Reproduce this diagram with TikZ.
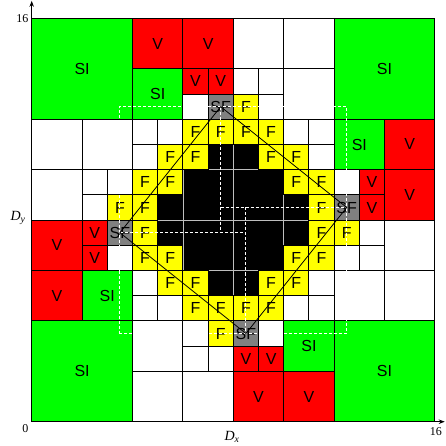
\documentclass[tikz,border=0pt]{standalone}
\usepackage{fontspec}
\setmainfont{Liberation Sans}
\newfontfamily\axfont{Liberation Serif}
\usetikzlibrary{arrows.meta}
\definecolor{cgreen}{RGB}{0,255,0}
\definecolor{cred}{RGB}{255,0,0}
\definecolor{cyellow}{RGB}{255,255,0}
\definecolor{cgray}{RGB}{128,128,128}
\definecolor{cblkedge}{RGB}{190,190,190}
\begin{document}
\begin{tikzpicture}[x=25.2pt,y=25.2pt,
  cellbox/.style={draw=black,line width=0.9pt},
  blkbox/.style={draw=cblkedge,line width=0.8pt,fill=black},
  lbl/.style={font=\fontsize{16}{16}\selectfont,inner sep=0pt},
  axlbl/.style={font=\axfont\fontsize{12}{12}\selectfont,inner sep=0pt},
  dlbl/.style={font=\axfont\fontsize{14}{14}\selectfont\itshape,inner sep=0pt},
  padline/.style={draw=white,line width=1pt,dash pattern=on 3pt off 2pt},
  diam/.style={draw=black,line width=0.8pt}]
\useasboundingbox (-1.258,-0.964) rectangle (16.401,16.734);
% black cells
\foreach \x/\y/\s in {7/10/1,5/8/1,6/8/2,8/10/1,8/8/2,10/8/1,5/7/1,6/6/2,7/5/1,8/6/2,10/7/1,8/5/1}
  \draw[blkbox] (\x,\y) rectangle ++(\s,\s);
% white cells
\foreach \x/\y/\s in {6/12/1,0/10/2,2/10/2,0/8/2,2/9/1,3/9/1,2/8/1,4/11/1,5/11/1,4/10/1,
  8/14/2,10/14/2,8/13/1,9/13/1,9/12/1,10/12/2,12/9/1,10/11/1,11/11/1,11/10/1,
  3/6/1,4/5/1,4/4/1,5/4/1,4/2/2,6/3/1,6/2/1,7/2/1,4/0/2,6/0/2,
  11/5/1,10/4/1,11/4/1,13/7/1,12/6/1,13/6/1,14/6/2,12/4/2,14/4/2,9/3/1}
  \draw[cellbox,fill=white] (\x,\y) rectangle ++(\s,\s);
% SI cells
\foreach \x/\y/\s in {0/12/4,4/12/2,12/12/4,12/10/2,2/4/2,0/0/4,10/2/2,12/0/4}{
  \draw[cellbox,fill=cgreen] (\x,\y) rectangle ++(\s,\s);
  \node[lbl] (si\x-\y) at (\x+\s/2,\y+\s/2) {SI};}
% V cells
\foreach \x/\y/\s in {4/14/2,6/14/2,6/13/1,7/13/1,14/10/2,13/9/1,13/8/1,14/8/2,
  0/6/2,2/7/1,2/6/1,0/4/2,8/2/1,9/2/1,8/0/2,10/0/2}{
  \draw[cellbox,fill=cred] (\x,\y) rectangle ++(\s,\s);
  \node[lbl] (v\x-\y) at (\x+\s/2,\y+\s/2) {V};}
% F cells
\foreach \x/\y in {3/8,6/11,7/11,5/10,6/10,4/9,5/9,4/8,8/12,8/11,9/11,9/10,10/10,10/9,11/9,11/8,
  4/7,4/6,5/6,5/5,6/5,6/4,7/4,7/3,11/7,10/6,11/6,9/5,10/5,8/4,9/4,12/7}{
  \draw[cellbox,fill=cyellow] (\x,\y) rectangle ++(1,1);
  \node[lbl] (f\x-\y) at (\x+0.5,\y+0.5) {F};}
% SF cells
\foreach \x/\y/\n in {7/12/T,12/8/R,8/3/B,3/7/L}{
  \draw[cellbox,fill=cgray] (\x,\y) rectangle ++(1,1);
  \node[lbl] (sf\n) at (\x+0.5,\y+0.5) {SF};}
% white dashed patch outlines
\draw[padline] (3.5,3.5) rectangle (12.5,12.5);
\draw[padline] (7.5,12.5) -- (7.5,7.5);
\draw[padline] (7.5,8.5) -- (12.5,8.5);
\draw[padline] (8.5,8.5) -- (8.5,3.5);
\draw[padline] (3.5,7.5) -- (8.5,7.5);
% diamond
\draw[diam] (sfT.center) -- (sfR.center) -- (sfB.center) -- (sfL.center) -- cycle;
% axes
\draw[line width=0.9pt,-{Stealth[length=6pt,width=4.5pt]}] (0,0) -- (0,16.7);
\draw[line width=0.9pt,-{Stealth[length=6pt,width=4.5pt]}] (0,0) -- (16.39,0);
\node[axlbl] (ytop) at (-0.37,15.98) {16};
\node[axlbl] (orig) at (-0.25,-0.28) {0};
\node[axlbl] (xend) at (16.04,-0.41) {16};
\node[dlbl] (dx) at (7.95,-0.6) {D\textsubscript{x}};
\node[dlbl] (dy) at (-0.54,8.08) {D\textsubscript{y}};
\end{tikzpicture}
\end{document}
